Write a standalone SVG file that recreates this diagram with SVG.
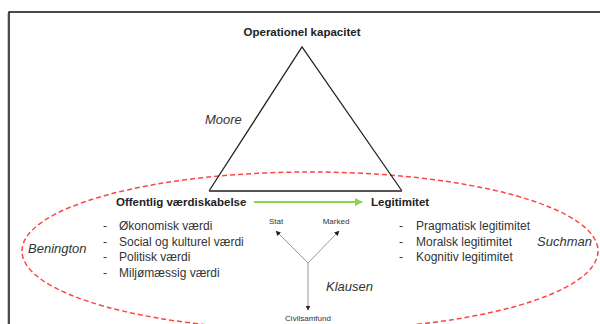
<svg xmlns="http://www.w3.org/2000/svg" width="600" height="324" viewBox="0 0 600 324">
<defs>
<style>
text{font-family:"Liberation Sans",Arial,sans-serif;fill:#222}
.b{font-weight:bold;font-size:11.5px}
.n{font-size:12px;fill:#333}
.i{font-style:italic;font-size:13px;fill:#333}
.s{font-size:8px;fill:#333}
.y{stroke:#999;stroke-width:1;fill:none}
</style>
<marker id="ga" viewBox="0 0 10 10" refX="9" refY="5" markerWidth="8" markerHeight="8" markerUnits="userSpaceOnUse" orient="auto"><path d="M0,0L10,5L0,10z" fill="#92D050"/></marker>
<marker id="ka" viewBox="0 0 10 10" refX="9" refY="5" markerWidth="5" markerHeight="5" markerUnits="userSpaceOnUse" orient="auto"><path d="M0,0L10,5L0,10z" fill="#222"/></marker>
</defs>
<rect width="600" height="324" fill="#fff"/>
<path d="M9,324V12H600" fill="none" stroke="#111" stroke-width="1.5"/>
<line x1="7.5" y1="13" x2="7.5" y2="324" stroke="#ccc" stroke-width="1"/>
<g id="frame-ellipse"><ellipse cx="310" cy="251" rx="288" ry="79" fill="none" stroke="#FF4444" stroke-width="1.5" stroke-dasharray="5 3"/></g>
<g id="connectors">
<path d="M209,191L302,47L402,191" fill="none" stroke="#222" stroke-width="1.3"/>
<line x1="209" y1="191" x2="402" y2="191" stroke="#555" stroke-width="2"/>
<line x1="254" y1="202" x2="362" y2="202" stroke="#92D050" stroke-width="2" marker-end="url(#ga)"/>
<line class="y" x1="308" y1="263" x2="276" y2="231" marker-end="url(#ka)"/>
<line class="y" x1="308" y1="263" x2="339" y2="231" marker-end="url(#ka)"/>
<line class="y" x1="308" y1="263" x2="308" y2="310" marker-end="url(#ka)"/>
</g>
<g id="operationel"><text class="b" x="302" y="36" text-anchor="middle">Operationel kapacitet</text></g>
<g id="moore"><text class="i" x="205" y="124">Moore</text></g>
<g id="offentlig">
<text class="b" x="116" y="206">Offentlig værdiskabelse</text>
<text class="n" x="103" y="230">-</text><text class="n" x="119" y="230">Økonomisk værdi</text>
<text class="n" x="103" y="246">-</text><text class="n" x="119" y="246">Social og kulturel værdi</text>
<text class="n" x="103" y="261">-</text><text class="n" x="119" y="261">Politisk værdi</text>
<text class="n" x="103" y="277">-</text><text class="n" x="119" y="277">Miljømæssig værdi</text>
</g>
<g id="legitimitet">
<text class="b" x="371" y="206">Legitimitet</text>
<text class="n" x="399" y="230">-</text><text class="n" x="416" y="230">Pragmatisk legitimitet</text>
<text class="n" x="399" y="246">-</text><text class="n" x="416" y="246">Moralsk legitimitet</text>
<text class="n" x="399" y="261">-</text><text class="n" x="416" y="261">Kognitiv legitimitet</text>
</g>
<g id="benington"><text class="i" x="28" y="253">Benington</text></g>
<g id="suchman"><text class="i" x="537" y="246">Suchman</text></g>
<g id="klausen"><text class="i" x="326" y="291">Klausen</text></g>
<g id="stat"><text class="s" x="276" y="224" text-anchor="middle">Stat</text></g>
<g id="marked"><text class="s" x="336" y="224" text-anchor="middle">Marked</text></g>
<g id="civilsamfund"><text class="s" x="308" y="321" text-anchor="middle">Civilsamfund</text></g>
</svg>
